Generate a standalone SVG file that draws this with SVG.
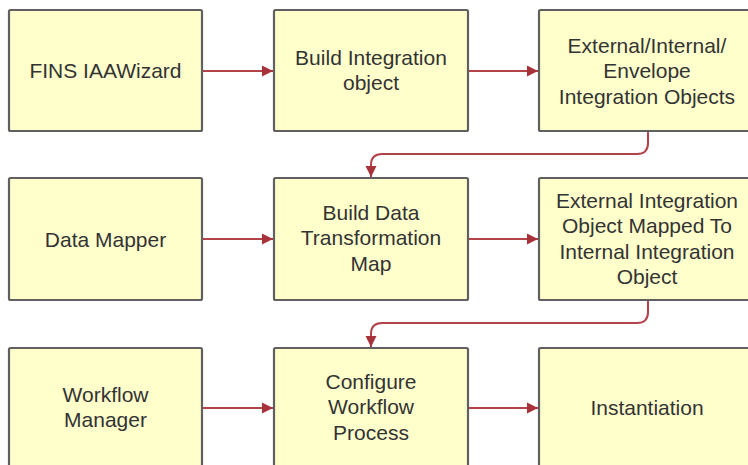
<svg xmlns="http://www.w3.org/2000/svg" width="748" height="465" viewBox="0 0 748 465">
<defs>
<style>
.box{fill:#ffffcc;stroke:#606060;stroke-width:2.2}
.t{font-family:"Liberation Sans",Arial,sans-serif;font-size:21px;fill:#333333;text-anchor:middle}
.c{fill:none;stroke:#b3434b;stroke-width:2}
</style>
<marker id="ah" markerWidth="12" markerHeight="12" viewBox="0 0 12 12" refX="11" refY="6" orient="auto" markerUnits="userSpaceOnUse">
<path d="M0,0.5 L11,6 L0,11.5 Z" fill="#a8323a"/>
</marker>
</defs>
<rect width="748" height="465" fill="#ffffff"/>
<g id="n1"><rect class="box" x="9" y="10" width="193" height="121" rx="1.5"/><text class="t" x="105.5" y="78">FINS IAAWizard</text></g>
<g id="n2"><rect class="box" x="274" y="10" width="194" height="121" rx="1.5"/><text class="t" x="371" y="64.5">Build Integration</text><text class="t" x="371" y="90">object</text></g>
<g id="n3"><rect class="box" x="539" y="10" width="216" height="121" rx="1.5"/><text class="t" x="647" y="52.5">External/Internal/</text><text class="t" x="647" y="78">Envelope</text><text class="t" x="647" y="103.5">Integration Objects</text></g>
<g id="n4"><rect class="box" x="9" y="178" width="193" height="122" rx="1.5"/><text class="t" x="105.5" y="246.5">Data Mapper</text></g>
<g id="n5"><rect class="box" x="274" y="178" width="194" height="122" rx="1.5"/><text class="t" x="371" y="219.5">Build Data</text><text class="t" x="371" y="245">Transformation</text><text class="t" x="371" y="270.5">Map</text></g>
<g id="n6"><rect class="box" x="539" y="178" width="216" height="122" rx="1.5"/><text class="t" x="647" y="207.5">External Integration</text><text class="t" x="647" y="233">Object Mapped To</text><text class="t" x="647" y="258.5">Internal Integration</text><text class="t" x="647" y="284">Object</text></g>
<g id="n7"><rect class="box" x="9" y="348" width="193" height="125" rx="1.5"/><text class="t" x="105.5" y="401.5">Workflow</text><text class="t" x="105.5" y="427">Manager</text></g>
<g id="n8"><rect class="box" x="274" y="348" width="194" height="125" rx="1.5"/><text class="t" x="371" y="388.5">Configure</text><text class="t" x="371" y="414">Workflow</text><text class="t" x="371" y="439.5">Process</text></g>
<g id="n9"><rect class="box" x="539" y="348" width="216" height="125" rx="1.5"/><text class="t" x="647" y="414.5">Instantiation</text></g>
<g id="connectors">
<path class="c" d="M203,71 L273,71" marker-end="url(#ah)"/>
<path class="c" d="M469,71 L538,71" marker-end="url(#ah)"/>
<path class="c" d="M203,239 L273,239" marker-end="url(#ah)"/>
<path class="c" d="M469,239 L538,239" marker-end="url(#ah)"/>
<path class="c" d="M203,408 L273,408" marker-end="url(#ah)"/>
<path class="c" d="M469,408 L538,408" marker-end="url(#ah)"/>
<path class="c" d="M648,132 L648,143 Q648,154 637,154 L382,154 Q371,154 371,165 L371,177" marker-end="url(#ah)"/>
<path class="c" d="M648,301 L648,312 Q648,323 637,323 L382,323 Q371,323 371,334 L371,347" marker-end="url(#ah)"/>
</g>
</svg>
